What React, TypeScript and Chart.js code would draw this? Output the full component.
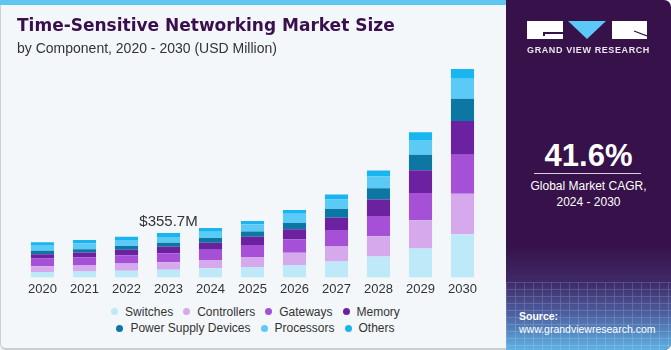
import React, { useEffect, useRef } from "react";
import { Chart, registerables } from "chart.js";

Chart.register(...registerables);

const years = ["2020", "2021", "2022", "2023", "2024", "2025", "2026", "2027", "2028", "2029", "2030"];
const switches = [43, 48, 54, 62.3, 73, 83, 99, 127, 167, 232, 345];
const controllers = [46, 48, 57, 59.1, 67, 81, 99, 121, 162, 226, 326];
const gateways = [62, 65, 67, 72.7, 81, 95, 107, 132, 164, 218, 313];
const memory = [35, 38, 43, 50.9, 57, 67, 81, 99, 132, 183, 269];
const powerSupply = [27, 27, 30, 32.3, 38, 43, 51, 70, 89, 124, 180];
const processors = [46, 46, 48, 46.1, 51, 57, 73, 75, 95, 119, 159];
const others = [23, 27, 27, 32.3, 30, 27, 30, 40, 48, 62, 78];

const seriesNames = ["Switches", "Controllers", "Gateways", "Memory", "Power Supply Devices", "Processors", "Others"];
const seriesColors = ["#bde9f9", "#d5a9eb", "#a550d6", "#6c22a0", "#0b77a2", "#5ccaf7", "#19b5ef"];
const seriesValues = [switches, controllers, gateways, memory, powerSupply, processors, others];

const annotationYear = "2023";
const annotationText = "$355.7M";
const cagrText = "41.6%";

const FONT = "'Liberation Sans', Arial, sans-serif";

const annotationPlugin = {
  id: "annot",
  afterDatasetsDraw(chart: any) {
    const idx = years.indexOf(annotationYear);
    const total = seriesValues.reduce((s, arr) => s + arr[idx], 0);
    const x = chart.scales.x.getPixelForValue(idx);
    const y = chart.scales.y.getPixelForValue(total);
    const ctx = chart.ctx;
    ctx.save();
    ctx.font = `15px ${FONT}`;
    ctx.fillStyle = "#333333";
    ctx.textAlign = "center";
    ctx.textBaseline = "alphabetic";
    ctx.fillText(annotationText, x, y - 7);
    ctx.restore();
  },
};

function BarChart() {
  const ref = useRef<HTMLCanvasElement | null>(null);
  useEffect(() => {
    if (!ref.current) return;
    const chart = new Chart(ref.current, {
      type: "bar",
      data: {
        labels: years,
        datasets: seriesNames.map((name, i) => ({
          label: name,
          data: seriesValues[i],
          backgroundColor: seriesColors[i],
          borderWidth: 0,
          barPercentage: 0.55,
          categoryPercentage: 1,
        })),
      },
      options: {
        responsive: false,
        animation: false,
        devicePixelRatio: 1,
        layout: { padding: { left: 21.5, right: 22.5, top: 52.9, bottom: 0 } },
        plugins: { legend: { display: false }, tooltip: { enabled: false } },
        scales: {
          x: {
            stacked: true,
            grid: { display: false, drawTicks: false },
            border: { display: false },
            ticks: { color: "#333333", font: { family: FONT, size: 13 }, padding: 4 },
          },
          y: { stacked: true, display: false, min: 0, max: 1800 },
        },
      },
      plugins: [annotationPlugin],
    });
    return () => chart.destroy();
  }, []);
  return (
    <canvas
      ref={ref}
      width={506}
      height={301}
      style={{ position: "absolute", left: 0, top: 0, width: 506, height: 301 }}
    />
  );
}

function Legend() {
  const rows = [
    [0, 1, 2, 3],
    [4, 5, 6],
  ];
  return (
    <>
      {rows.map((row, r) => (
        <div
          key={r}
          style={{
            position: "absolute",
            left: 0,
            width: 511,
            top: r === 0 ? 303.7 : 320,
            height: 16,
            display: "flex",
            justifyContent: "center",
            alignItems: "center",
            gap: 10,
            fontFamily: FONT,
            fontSize: 12,
            color: "#333333",
            whiteSpace: "nowrap",
          }}
        >
          {row.map((i) => (
            <div key={i} style={{ display: "flex", alignItems: "center" }}>
              <span
                style={{
                  display: "inline-block",
                  width: 7,
                  height: 7,
                  borderRadius: "50%",
                  background: seriesColors[i],
                  marginRight: 7,
                }}
              />
              <span style={{ lineHeight: "16px" }}>{seriesNames[i]}</span>
            </div>
          ))}
        </div>
      ))}
    </>
  );
}

function Panel() {
  const dark = "#371149";
  return (
    <div
      style={{
        position: "absolute",
        left: 506,
        top: 0,
        width: 165,
        height: 350,
        background: dark,
        borderTopRightRadius: 7,
        borderBottomRightRadius: 7,
        overflow: "hidden",
      }}
    >
      <div
        style={{
          position: "absolute",
          left: 0,
          top: 245,
          width: 165,
          height: 105,
          background: "linear-gradient(to bottom, rgba(55,17,73,0) 0%, #3e2a68 35%, #4d5f9f 65%, #5fb2e3 100%)",
        }}
      />
      <div
        style={{
          position: "absolute",
          left: 0,
          top: 282,
          width: 165,
          height: 68,
          opacity: 0.18,
          backgroundImage:
            "repeating-linear-gradient(to right, rgba(255,255,255,0.8) 0 1px, transparent 1px 9px), repeating-linear-gradient(to bottom, rgba(255,255,255,0.8) 0 1px, transparent 1px 7px)",
        }}
      />
      <div style={{ position: "absolute", left: 21, top: 21, width: 36, height: 18, background: "#ffffff" }}>
        <div style={{ position: "absolute", left: 16, top: 11, width: 20, height: 1.5, background: dark }} />
        <div style={{ position: "absolute", left: 16, top: 11, width: 1.5, height: 4, background: dark }} />
      </div>
      <svg style={{ position: "absolute", left: 62, top: 21 }} width={38} height={18}>
        <polygon points="0,0 38,0 19,18" fill="#5bc8f5" />
      </svg>
      <div style={{ position: "absolute", left: 106, top: 21, width: 35, height: 18, background: "#ffffff" }}>
        <svg style={{ position: "absolute", left: 0, top: 0 }} width={35} height={18}>
          <line x1={22} y1={10} x2={35} y2={15} stroke={dark} strokeWidth={1.3} />
        </svg>
      </div>
      <div
        style={{
          position: "absolute",
          left: 0,
          width: 165,
          top: 45,
          textAlign: "center",
          fontFamily: FONT,
          fontWeight: "bold",
          fontSize: 9,
          letterSpacing: 0.6,
          color: "#ece6f0",
          whiteSpace: "nowrap",
          lineHeight: "11px",
        }}
      >
        GRAND VIEW RESEARCH
      </div>
      <div
        style={{
          position: "absolute",
          left: 0,
          width: 165,
          top: 140,
          textAlign: "center",
          fontFamily: FONT,
          fontWeight: "bold",
          fontSize: 31,
          color: "#ffffff",
          lineHeight: "31px",
          whiteSpace: "nowrap",
        }}
      >
        {cagrText}
      </div>
      <div style={{ position: "absolute", left: 28, top: 173, width: 107, height: 1.3, background: "#d8cfe0" }} />
      <div
        style={{
          position: "absolute",
          left: 0,
          width: 165,
          top: 179,
          textAlign: "center",
          fontFamily: FONT,
          fontSize: 12,
          color: "#ffffff",
          lineHeight: "15.5px",
          whiteSpace: "nowrap",
        }}
      >
        Global Market CAGR,
        <br />
        2024 - 2030
      </div>
      <div
        style={{
          position: "absolute",
          left: 13,
          top: 310,
          fontFamily: FONT,
          fontSize: 10.5,
          color: "#ffffff",
          lineHeight: "13px",
          whiteSpace: "nowrap",
        }}
      >
        <div style={{ fontWeight: "bold" }}>Source:</div>
        <div>www.grandviewresearch.com</div>
      </div>
    </div>
  );
}

export default function App() {
  useEffect(() => {
    document.body.style.margin = "0";
  }, []);
  return (
    <div
      style={{
        position: "absolute",
        left: 0,
        top: 0,
        width: 671,
        height: 350,
        background: "#f3f7fa",
        overflow: "hidden",
      }}
    >
      <div
        style={{
          position: "absolute",
          left: 0,
          top: 0,
          width: 520,
          height: 350,
          boxSizing: "border-box",
          borderLeft: "1px solid #cdd2d6",
          borderBottom: "2px solid #c9ced2",
          borderBottomLeftRadius: 6,
        }}
      />
      <div style={{ position: "absolute", left: 0, top: 0, width: 520, height: 5, background: "#5ec6ef" }} />
      <BarChart />
      <div
        style={{
          position: "absolute",
          left: 17,
          top: 17,
          fontFamily: "'DejaVu Sans', sans-serif",
          fontWeight: "bold",
          fontSize: 17,
          lineHeight: "17px",
          color: "#3a0f4d",
          whiteSpace: "nowrap",
        }}
      >
        Time-Sensitive Networking Market Size
      </div>
      <div
        style={{
          position: "absolute",
          left: 17,
          top: 41,
          fontFamily: FONT,
          fontSize: 14,
          lineHeight: "14px",
          color: "#333333",
          whiteSpace: "nowrap",
        }}
      >
        by Component, 2020 - 2030 (USD Million)
      </div>
      <Legend />
      <Panel />
    </div>
  );
}
